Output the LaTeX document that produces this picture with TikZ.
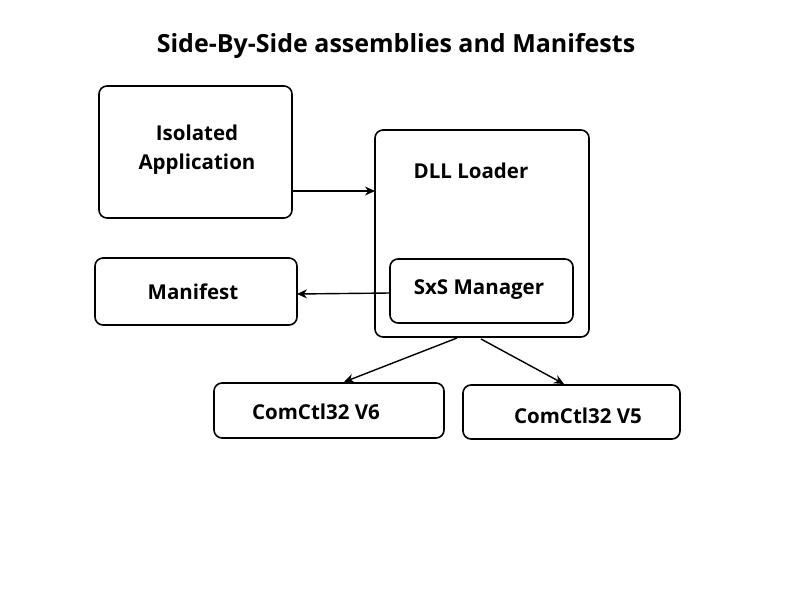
\documentclass[tikz,border=0pt]{standalone}
\usepackage{fontspec}
\setmainfont{Open Sans}
\usetikzlibrary{arrows.meta}
\begin{document}
\begin{tikzpicture}[x=1pt,y=-1pt,
  box/.style={draw,line width=1.6pt,rounded corners=8pt},
  lbl/.style={font=\bfseries\fontsize{20.5}{29}\selectfont,align=center},
  conn/.style={line width=1.4pt,-{Stealth[length=10pt,width=9pt]}}]
\useasboundingbox[fill=white] (0,0) rectangle (800,600);
\node[font=\bfseries\fontsize{25}{30}\selectfont] (title) at (396,46) {Side-By-Side assemblies and Manifests};
\draw[box] (99,86) rectangle (292,218);
\node[lbl] (app) at (197,149.5) {Isolated\\Application};
\coordinate (appE) at (292,191);
\draw[box] (375,130) rectangle (589,337);
\node[lbl] (loader) at (471,171) {DLL Loader};
\coordinate (loaderW) at (375,191);
\coordinate (loaderB1) at (457,338);
\coordinate (loaderB2) at (481,339);
\draw[box] (390,259) rectangle (573,323);
\node[lbl] (sxs) at (479,289.5) {SxS Manager};
\coordinate (sxsW) at (390,293);
\draw[box] (95,258) rectangle (297,325);
\node[lbl] (manifest) at (193,292) {Manifest};
\coordinate (manE) at (297,294);
\draw[box] (214,383) rectangle (444,438);
\node[lbl] (v6) at (316,412) {ComCtl32 V6};
\coordinate (v6N) at (344,382);
\draw[box] (463,385) rectangle (680,439);
\node[lbl] (v5) at (578,416) {ComCtl32 V5};
\coordinate (v5N) at (564,384);
\draw[conn] (appE) -- (loaderW);
\draw[conn] (sxsW) -- (manE);
\draw[conn] (loaderB1) -- (v6N);
\draw[conn] (loaderB2) -- (v5N);
\end{tikzpicture}
\end{document}
